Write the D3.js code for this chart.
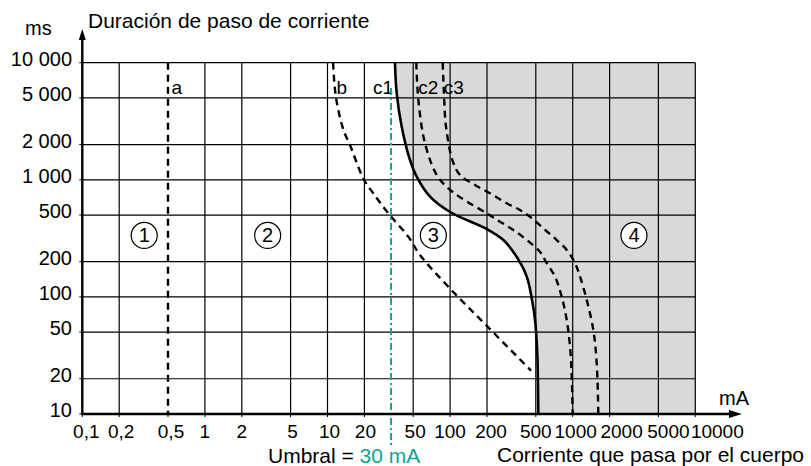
<!DOCTYPE html>
<html>
<head>
<meta charset="utf-8">
<script src="https://cdn.jsdelivr.net/npm/d3@7"></script>
<style>
  body { margin: 0; background: #fff; }
  text { font-family: "Liberation Sans", Arial, Helvetica, sans-serif; fill: #000; }
</style>
</head>
<body>
<svg id="chart" width="811" height="466"></svg>
<script>
// ticks of both axes (mA / ms)
const xTicks = [0.1, 0.2, 0.5, 1, 2, 5, 10, 20, 50, 100, 200, 500, 1000, 2000, 5000, 10000];
const xTickLabels = ["0,1", "0,2", "0,5", "1", "2", "5", "10", "20", "50", "100", "200", "500", "1000", "2000", "5000", "10000"];
const yTicks = [10, 20, 50, 100, 200, 500, 1000, 2000, 5000, 10000];
const yTickLabels = ["10", "20", "50", "100", "200", "500", "1 000", "2 000", "5 000", "10 000"];

// curves as [mA, ms], top to bottom
const curveA = [[0.5, 10000], [0.5, 10]];
const curveB = [[11.1, 10000], [11.7, 5120], [13.5, 2660], [15.2, 2000], [19.7, 1016], [23.6, 767],
  [31.3, 518], [45.6, 327], [56.8, 228], [99.8, 118], [201, 56], [457, 23.5]];
const curveC1 = [[35.5, 10000], [36.7, 5480], [40.3, 2840], [47.1, 1476], [53.4, 1063], [68.6, 717],
  [99.8, 531], [199, 380], [272, 306], [349, 220], [422, 149], [466, 94], [493, 63.5], [514, 33], [524, 10]];
const curveC2 = [[53, 10000], [55.1, 4800], [62.4, 2050], [77.8, 1099], [96.7, 846], [124.4, 695],
  [199, 518], [255, 439], [328, 373], [422, 306], [541, 243], [614, 194], [718, 149], [814, 100],
  [894, 63.5], [951, 37.6], [982, 20.8], [1000, 10]];
const curveC3 = [[87.1, 10000], [89.2, 5300], [92.6, 2840], [105.6, 1419], [120.5, 1099], [159.7, 903],
  [211.7, 767], [289.6, 630], [371.8, 552], [448.6, 484], [576, 385], [741, 306], [894, 252],
  [1045, 194], [1148, 149], [1302, 94], [1473, 52.2], [1570, 27.1], [1618, 10]];

const curveNames = ["a", "b", "c1", "c2", "c3"];
const zoneNames = ["1", "2", "3", "4"];
const zoneMA = [0.32, 3.25, 73, 3160];
const zoneMS = 335;

const umbral = 30;        // threshold in the caption
const umbralLineMA = 33;  // where the dash-dot line sits in the picture
const umbralTopMS = 6080;

const teal = "#14a38f";
const grey = "#d9d9d9";

const svg = d3.select("#chart");
const x = d3.scaleLog().domain([0.1, 10000]).range([82.3, 695.3]);
const y = d3.scaleLog().domain([10, 10000]).range([414, 62.7]);

const line = d3.line().x(d => x(d[0])).y(d => y(d[1])).curve(d3.curveCatmullRom.alpha(0.5));

svg.append("defs").append("clipPath").attr("id", "plot")
  .append("rect").attr("x", x(0.1)).attr("y", y(10000))
  .attr("width", x(10000) - x(0.1)).attr("height", y(10) - y(10000));

// grey zone right of c1
svg.append("path")
  .attr("d", line(curveC1) + `L${x(10000)},${y(10)}L${x(10000)},${y(10000)}Z`)
  .attr("fill", grey)
  .attr("clip-path", "url(#plot)");

// grid
const grid = svg.append("g").attr("stroke", "#000").attr("stroke-width", 1.2);
grid.selectAll(".gx").data(xTicks.filter(v => v !== 0.1 && v !== 0.5)).join("line")
  .attr("x1", d => x(d)).attr("x2", d => x(d)).attr("y1", y(10)).attr("y2", y(10000));
grid.selectAll(".gy").data(yTicks.filter(v => v !== 10)).join("line")
  .attr("y1", d => y(d)).attr("y2", d => y(d)).attr("x1", x(0.1)).attr("x2", x(10000));

// curves
const curves = svg.append("g").attr("fill", "none").attr("stroke", "#000")
  .attr("stroke-width", 2.4).attr("clip-path", "url(#plot)");
[curveA, curveB, curveC2, curveC3].forEach(c => {
  curves.append("path").attr("d", line(c)).attr("stroke-dasharray", "7,5");
});
curves.append("path").attr("d", line(curveC1)).attr("stroke-width", 2.6);

// curve labels
const labelPos = [
  [curveA[0][0], "start", 3.5], [curveB[0][0], "start", 3.5], [curveC1[0][0], "end", -2],
  [curveC2[0][0], "start", 2], [curveC3[0][0], "start", 1]
];
svg.append("g").selectAll("text").data(curveNames).join("text")
  .attr("x", (d, i) => x(labelPos[i][0]) + labelPos[i][2])
  .attr("y", 94)
  .attr("text-anchor", (d, i) => labelPos[i][1])
  .attr("font-size", 19)
  .text(d => d);

// threshold line
svg.append("line")
  .attr("x1", x(umbralLineMA)).attr("x2", x(umbralLineMA))
  .attr("y1", y(umbralTopMS)).attr("y2", y(10) + 32)
  .attr("stroke", teal).attr("stroke-width", 2)
  .attr("stroke-dasharray", "7,3,2,3");

// zone markers
const zg = svg.append("g").selectAll("g").data(zoneNames).join("g")
  .attr("transform", (d, i) => `translate(${x(zoneMA[i])},${y(zoneMS)})`);
zg.append("circle").attr("r", 13).attr("fill", "#fff").attr("stroke", "#000").attr("stroke-width", 1.2);
zg.append("text").attr("text-anchor", "middle").attr("y", 7).attr("font-size", 20).text(d => d);

// axes
const ax = svg.append("g");
ax.append("line").attr("x1", x(0.1)).attr("x2", 732).attr("y1", y(10)).attr("y2", y(10))
  .attr("stroke", "#000").attr("stroke-width", 2.4);
ax.append("path").attr("d", `M742,${y(10)}L729,${y(10) - 4}L729,${y(10) + 4}Z`).attr("fill", "#000");
ax.append("line").attr("x1", x(0.1)).attr("x2", x(0.1)).attr("y1", y(10) + 1).attr("y2", 38)
  .attr("stroke", "#000").attr("stroke-width", 2.4);
ax.append("path").attr("d", `M${x(0.1)},29L${x(0.1) - 3.5},40L${x(0.1) + 3.5},40Z`).attr("fill", "#000");

// x ticks
const xNudge = [4, 2, 3, 0, 0, 2, 2, 1, 2, 0, 4, 0, 3, 12, 10, 22];
ax.selectAll(".tx").data(xTicks).join("line")
  .attr("x1", d => x(d)).attr("x2", d => x(d)).attr("y1", y(10)).attr("y2", y(10) + 3)
  .attr("stroke", "#000").attr("stroke-width", 1);
ax.selectAll(".lx").data(xTickLabels).join("text")
  .attr("x", (d, i) => x(xTicks[i]) + xNudge[i]).attr("y", 438)
  .attr("text-anchor", "middle").attr("font-size", 19).text(d => d);

// y ticks
ax.selectAll(".ty").data(yTicks).join("line")
  .attr("y1", d => y(d)).attr("y2", d => y(d)).attr("x1", x(0.1) - 3).attr("x2", x(0.1))
  .attr("stroke", "#000").attr("stroke-width", 1);
ax.selectAll(".ly").data(yTickLabels).join("text")
  .attr("x", 72).attr("y", (d, i) => y(yTicks[i]) + 3)
  .attr("text-anchor", "end").attr("font-size", 20).text(d => d);

// titles
svg.append("text").attr("x", 25).attr("y", 35).attr("font-size", 20).text("ms");
svg.append("text").attr("x", 88).attr("y", 28).attr("font-size", 21).text("Duración de paso de corriente");
svg.append("text").attr("x", 719).attr("y", 405).attr("font-size", 20).text("mA");
svg.append("text").attr("x", 497).attr("y", 462).attr("font-size", 21).text("Corriente que pasa por el cuerpo");
const u = svg.append("text").attr("x", 268).attr("y", 463).attr("font-size", 21);
u.append("tspan").text("Umbral = ");
u.append("tspan").style("fill", teal).text(`${umbral} mA`);
</script>
</body>
</html>
